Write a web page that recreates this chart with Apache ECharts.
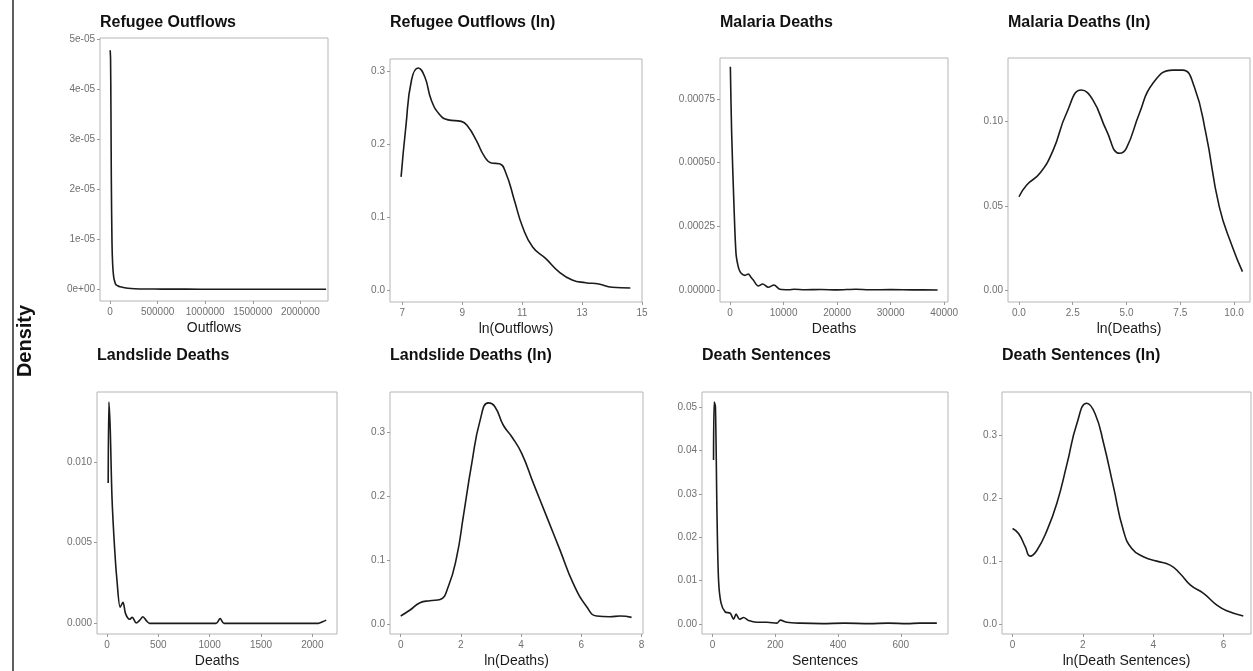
<!DOCTYPE html>
<html>
<head>
<meta charset="utf-8">
<script src="https://cdn.jsdelivr.net/npm/echarts@6/dist/echarts.min.js"></script>
<style>
  html, body { margin: 0; padding: 0; background: #ffffff; }
  #chart { width: 1253px; height: 671px; }
</style>
</head>
<body>
<div id="chart"></div>
<script>
// ---- Kernel density estimates, [value, density] ----
const refugeeCurve = [
  [2000, 4.78e-5], [6000, 4.6e-5], [10000, 3.6e-5], [14000, 2.2e-5], [21000, 0.93e-5],
  [28000, 0.5e-5], [38000, 0.26e-5], [50000, 0.15e-5], [63000, 0.09e-5], [80000, 0.07e-5],
  [105000, 0.05e-5], [140000, 0.035e-5], [190000, 0.02e-5], [260000, 0.012e-5],
  [380000, 0.007e-5], [550000, 0.004e-5], [800000, 0.003e-5], [1100000, 0.002e-5],
  [1500000, 0.001e-5], [1900000, 0.001e-5], [2270000, 0.0005e-5]
];
const refugeeLnCurve = [
  [6.96, 0.155], [7.12, 0.224], [7.31, 0.288], [7.53, 0.304], [7.75, 0.292], [7.97, 0.260],
  [8.25, 0.240], [8.53, 0.233], [8.97, 0.231], [9.19, 0.224], [9.47, 0.205], [9.74, 0.183],
  [9.97, 0.174], [10.24, 0.173], [10.46, 0.160], [10.74, 0.123], [11.01, 0.087],
  [11.35, 0.059], [11.79, 0.043], [12.23, 0.025], [12.67, 0.0137], [13.12, 0.010],
  [13.56, 0.0082], [14.0, 0.0037], [14.61, 0.0027]
];
const malariaCurve = [
  [67, 0.000877], [310, 0.000615], [750, 0.000327], [1120, 0.000144], [1500, 0.000095],
  [1870, 0.000072], [2400, 0.000060], [2800, 0.0000576], [3420, 0.0000628], [3900, 0.000050],
  [4350, 0.0000393], [5280, 0.0000157], [6100, 0.0000236], [7150, 0.0000106],
  [8210, 0.0000196], [9330, 0.0000027], [11000, 0.0000010], [12000, 0.0000030],
  [14000, 0.0000008], [17000, 0.0000020], [20000, 0.0000005], [23500, 0.0000030],
  [26000, 0.0000008], [30000, 0.0000015], [34000, 0.0000005], [38760, 0.0000003]
];
const malariaLnCurve = [
  [0, 0.0554], [0.36, 0.0624], [0.97, 0.0693], [1.59, 0.0831], [2.21, 0.105], [2.90, 0.1188],
  [3.44, 0.1128], [4.06, 0.095], [4.68, 0.0812], [4.99, 0.0841], [5.6, 0.105], [6.22, 0.1227],
  [7.15, 0.1306], [7.61, 0.1306], [8.15, 0.1207], [8.69, 0.093], [9.31, 0.0495],
  [9.92, 0.0257], [10.39, 0.0109]
];
const landslideCurve = [
  [12, 0.0087], [19, 0.0137], [32, 0.0120], [49, 0.0078], [74, 0.0047], [97, 0.0027],
  [129, 0.0010], [156, 0.0013], [181, 0.0006], [220, 0.00025], [246, 0.00037], [285, 0.00002],
  [320, 0.0002], [350, 0.00041], [385, 0.00015], [415, 0.0], [700, 0.0], [1063, 0.0],
  [1102, 0.0003], [1140, 0.0], [1700, 0.0], [2058, 0.0], [2100, 0.0001], [2135, 0.0002]
];
const landslideLnCurve = [
  [0, 0.0125], [0.31, 0.0219], [0.64, 0.0333], [0.97, 0.0365], [1.31, 0.0385], [1.58, 0.0583],
  [1.86, 0.105], [2.08, 0.168], [2.36, 0.251], [2.64, 0.319], [2.91, 0.346], [3.13, 0.340],
  [3.41, 0.311], [3.69, 0.293], [4.02, 0.267], [4.41, 0.220], [4.85, 0.168], [5.29, 0.116],
  [5.73, 0.0636], [6.18, 0.027], [6.51, 0.0125], [6.95, 0.0115], [7.29, 0.0125], [7.67, 0.0104]
];
const sentencesCurve = [
  [3, 0.0378], [5, 0.0512], [9, 0.0501], [14, 0.0255], [19, 0.0101], [27, 0.0048],
  [40, 0.0028], [56, 0.0025], [67, 0.0011], [75, 0.0023], [86, 0.0011], [99, 0.0015],
  [115, 0.0008], [141, 0.0004], [173, 0.0004], [205, 0.0002], [216, 0.0009], [237, 0.0004],
  [280, 0.0002], [350, 0.0001], [420, 0.0002], [500, 0.0001], [560, 0.0002], [620, 0.0001],
  [660, 0.0002], [715, 0.0002]
];
const sentencesLnCurve = [
  [0, 0.152], [0.17, 0.144], [0.36, 0.123], [0.50, 0.108], [0.69, 0.117], [0.98, 0.149],
  [1.26, 0.192], [1.55, 0.255], [1.83, 0.319], [2.11, 0.351], [2.35, 0.334], [2.59, 0.287],
  [2.87, 0.218], [3.15, 0.149], [3.39, 0.120], [3.72, 0.107], [4.10, 0.100], [4.48, 0.0937],
  [4.76, 0.0804], [5.06, 0.0619], [5.43, 0.0487], [5.81, 0.030], [6.09, 0.0211], [6.56, 0.0127]
];

// ---- Tick values and their printed labels ----
const refugeeXTicks = [0, 500000, 1000000, 1500000, 2000000];
const refugeeYTicks = [0, 1e-5, 2e-5, 3e-5, 4e-5, 5e-5];
const refugeeYLabels = ['0e+00', '1e-05', '2e-05', '3e-05', '4e-05', '5e-05'];
const refugeeLnXTicks = [7, 9, 11, 13, 15];
const refugeeLnYTicks = [0, 0.1, 0.2, 0.3];
const refugeeLnYLabels = ['0.0', '0.1', '0.2', '0.3'];
const malariaXTicks = [0, 10000, 20000, 30000, 40000];
const malariaYTicks = [0, 0.00025, 0.0005, 0.00075];
const malariaYLabels = ['0.00000', '0.00025', '0.00050', '0.00075'];
const malariaLnXTicks = [0, 2.5, 5, 7.5, 10];
const malariaLnXLabels = ['0.0', '2.5', '5.0', '7.5', '10.0'];
const malariaLnYTicks = [0, 0.05, 0.1];
const malariaLnYLabels = ['0.00', '0.05', '0.10'];
const landslideXTicks = [0, 500, 1000, 1500, 2000];
const landslideYTicks = [0, 0.005, 0.01];
const landslideYLabels = ['0.000', '0.005', '0.010'];
const landslideLnXTicks = [0, 2, 4, 6, 8];
const landslideLnYTicks = [0, 0.1, 0.2, 0.3];
const landslideLnYLabels = ['0.0', '0.1', '0.2', '0.3'];
const sentencesXTicks = [0, 200, 400, 600];
const sentencesYTicks = [0, 0.01, 0.02, 0.03, 0.04, 0.05];
const sentencesYLabels = ['0.00', '0.01', '0.02', '0.03', '0.04', '0.05'];
const sentencesLnXTicks = [0, 2, 4, 6];
const sentencesLnYTicks = [0, 0.1, 0.2, 0.3];
const sentencesLnYLabels = ['0.0', '0.1', '0.2', '0.3'];

// ---- Panel definitions: data, ticks, axis extents and box placement ----
const panels = [
  { title: 'Refugee Outflows', xName: 'Outflows', data: refugeeCurve, smooth: 0.3,
    xTicks: refugeeXTicks, yTicks: refugeeYTicks, yLabels: refugeeYLabels,
    xRange: [-105000, 2290000], yRange: [-2.34e-6, 5.026e-5],
    box: { left: 100, top: 38, width: 228, height: 263 }, titleTop: 15 },
  { title: 'Refugee Outflows (ln)', xName: 'ln(Outflows)', data: refugeeLnCurve, smooth: 0.5,
    xTicks: refugeeLnXTicks, yTicks: refugeeLnYTicks, yLabels: refugeeLnYLabels,
    xRange: [6.59, 15.0], yRange: [-0.0164, 0.3164],
    box: { left: 390, top: 59, width: 252, height: 243 }, titleTop: 15 },
  { title: 'Malaria Deaths', xName: 'Deaths', data: malariaCurve, smooth: 0.3,
    xTicks: malariaXTicks, yTicks: malariaYTicks, yLabels: malariaYLabels,
    xRange: [-1867, 40700], yRange: [-0.0000471, 0.000911],
    box: { left: 720, top: 58, width: 228, height: 244 }, titleTop: 15 },
  { title: 'Malaria Deaths (ln)', xName: 'ln(Deaths)', data: malariaLnCurve, smooth: 0.5,
    xTicks: malariaLnXTicks, xLabels: malariaLnXLabels, yTicks: malariaLnYTicks, yLabels: malariaLnYLabels,
    xRange: [-0.51, 10.74], yRange: [-0.00713, 0.1378],
    box: { left: 1008, top: 58, width: 242, height: 244 }, titleTop: 15 },
  { title: 'Landslide Deaths', xName: 'Deaths', data: landslideCurve, smooth: 0.3,
    xTicks: landslideXTicks, yTicks: landslideYTicks, yLabels: landslideYLabels,
    xRange: [-97, 2240], yRange: [-0.00066, 0.01433],
    box: { left: 97, top: 392, width: 240, height: 242 }, titleTop: 348 },
  { title: 'Landslide Deaths (ln)', xName: 'ln(Deaths)', data: landslideLnCurve, smooth: 0.5,
    xTicks: landslideLnXTicks, yTicks: landslideLnYTicks, yLabels: landslideLnYLabels,
    xRange: [-0.355, 8.05], yRange: [-0.0156, 0.363],
    box: { left: 390, top: 392, width: 253, height: 242 }, titleTop: 348 },
  { title: 'Death Sentences', xName: 'Sentences', data: sentencesCurve, smooth: 0.3,
    xTicks: sentencesXTicks, yTicks: sentencesYTicks, yLabels: sentencesYLabels,
    xRange: [-33.8, 750.6], yRange: [-0.0023, 0.0535],
    box: { left: 702, top: 392, width: 246, height: 242 }, titleTop: 348 },
  { title: 'Death Sentences (ln)', xName: 'ln(Death Sentences)', data: sentencesLnCurve, smooth: 0.5,
    xTicks: sentencesLnXTicks, yTicks: sentencesLnYTicks, yLabels: sentencesLnYLabels,
    xRange: [-0.30, 6.78], yRange: [-0.0159, 0.369],
    box: { left: 1002, top: 392, width: 249, height: 242 }, titleTop: 348 }
];

const FONT = '"Liberation Sans", Arial, Helvetica, sans-serif';
const BORDER = '#b5b5b5';
const TICK_TEXT = '#6f6f6f';

function labelFor(ticks, labels) {
  return function (v) {
    for (let i = 0; i < ticks.length; i++) {
      if (Math.abs(v - ticks[i]) <= Math.abs(ticks[ticks.length - 1]) * 1e-6 + 1e-15) {
        return labels ? labels[i] : String(ticks[i]);
      }
    }
    return '';
  };
}

const grids = [], xAxes = [], yAxes = [], series = [], titles = [];
panels.forEach(function (p, i) {
  grids.push({
    left: p.box.left, top: p.box.top, width: p.box.width, height: p.box.height,
    show: true, borderColor: BORDER, borderWidth: 1, backgroundColor: '#ffffff',
    containLabel: false
  });
  xAxes.push({
    type: 'value', gridIndex: i, min: p.xRange[0], max: p.xRange[1], position: 'bottom',
    name: p.xName, nameLocation: 'middle', nameGap: 20,
    nameTextStyle: { fontFamily: FONT, fontSize: 14, color: '#1a1a1a' },
    axisLine: { show: false, onZero: false },
    axisTick: { show: true, length: 3, customValues: p.xTicks, lineStyle: { color: '#9a9a9a' } },
    axisLabel: { customValues: p.xTicks, margin: 6, fontFamily: FONT, fontSize: 10,
                 color: TICK_TEXT, formatter: labelFor(p.xTicks, p.xLabels), hideOverlap: false },
    splitLine: { show: false }
  });
  yAxes.push({
    type: 'value', gridIndex: i, min: p.yRange[0], max: p.yRange[1], position: 'left',
    axisLine: { show: false, onZero: false },
    axisTick: { show: true, length: 3, customValues: p.yTicks, lineStyle: { color: '#9a9a9a' } },
    axisLabel: { customValues: p.yTicks, margin: 5, fontFamily: FONT, fontSize: 10,
                 color: TICK_TEXT, formatter: labelFor(p.yTicks, p.yLabels), hideOverlap: false },
    splitLine: { show: false }
  });
  series.push({
    type: 'line', xAxisIndex: i, yAxisIndex: i, data: p.data,
    showSymbol: false, smooth: p.smooth, silent: true,
    lineStyle: { color: '#1b1b1b', width: 1.6 }
  });
  titles.push({
    text: p.title, left: p.box.left, top: p.titleTop, padding: 0,
    textStyle: { fontFamily: FONT, fontSize: 16, fontWeight: 'bold', color: '#111111' }
  });
});

const chart = echarts.init(document.getElementById('chart'), null, { renderer: 'canvas' });
chart.setOption({
  backgroundColor: '#ffffff',
  animation: false,
  title: titles,
  grid: grids,
  xAxis: xAxes,
  yAxis: yAxes,
  series: series,
  graphic: [
    { type: 'line', shape: { x1: 13, y1: 0, x2: 13, y2: 671 },
      style: { stroke: '#2a2a2a', lineWidth: 1.5 }, silent: true },
    { type: 'text', x: 25, y: 341, rotation: Math.PI / 2,
      style: { text: 'Density', fontFamily: FONT, fontSize: 20, fontWeight: 'bold',
               fill: '#111111', align: 'center', verticalAlign: 'middle' }, silent: true }
  ]
});
</script>
</body>
</html>
